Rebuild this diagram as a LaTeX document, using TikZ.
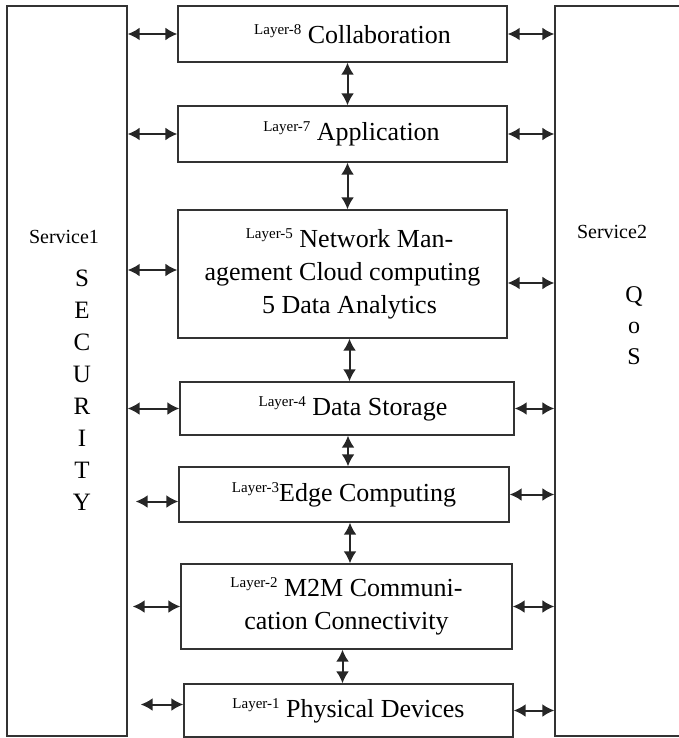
\documentclass[tikz,border=0pt]{standalone}
\usepackage{fontspec}
\setmainfont{Liberation Serif}
\usetikzlibrary{arrows.meta}
\newcommand{\lyr}[1]{\raisebox{9pt}{\fontsize{15}{15}\selectfont Layer-#1}}

\begin{document}
\begin{tikzpicture}[
        x=1pt, y=-1pt,
        layer/.style={draw=black!80, line width=1.4pt, inner sep=0pt, align=center, font=\fontsize{26}{33}\selectfont},
        service/.style={draw=black!80, line width=1.4pt, inner sep=0pt, minimum height=730pt},
        biarrow/.style={{Latex[length=12pt,width=13pt]}-{Latex[length=12pt,width=13pt]}, line width=2pt, black!85},
        svctext/.style={inner sep=0pt, font=\fontsize{20}{20}\selectfont},
        letters/.style={align=center, inner sep=0pt, anchor=north, font=\fontsize{25}{32}\selectfont}
    ]
    \useasboundingbox (0,0) rectangle (679,738);
    % side services
    \node[service, minimum width=120pt] (sec) at (67,371) {};
    \node[service, minimum width=130pt] (qos) at (620,371) {};
    \node[svctext] (svc1) at (64,237) {Service1};
    \node[svctext] (svc2) at (612,232) {Service2};
    \node[letters] (security) at (82,270) {S\\E\\C\\U\\R\\I\\T\\Y};
    \node[letters, font=\fontsize{24}{31}\selectfont] (qosword) at (634,286) {Q\\o\\S};
    % layers
    \node[layer, minimum width=329pt, minimum height=56pt] (l8) at (342.5,34) {\hspace*{20pt}\lyr{8} Collaboration};
    \node[layer, minimum width=329pt, minimum height=56pt] (l7) at (342.5,134) {\hspace*{18pt}\lyr{7} Application};
    \node[layer, minimum width=329pt, minimum height=128pt] (l5) at (342.5,274)
        {\hspace*{14pt}\lyr{5} Network Man-\\agement Cloud computing\\\hspace*{14pt}5 Data Analytics};
    \node[layer, minimum width=334pt, minimum height=53pt] (l4) at (347,408.5) {\hspace*{12pt}\lyr{4} Data Storage};
    \node[layer, minimum width=330pt, minimum height=55pt] (l3) at (344,494.5) {\lyr{3}Edge Computing};
    \node[layer, minimum width=331pt, minimum height=85pt] (l2) at (346.5,606.5)
        {\lyr{2} M2M Communi-\\cation Connectivity};
    \node[layer, minimum width=329pt, minimum height=53pt] (l1) at (348.5,710.5) {\lyr{1} Physical Devices};
    % links to the services
    \foreach \n in {l8,l7,l4,l3,l2,l1}{
        \draw[biarrow] (\n.east) -- (qos.west |- \n.east);
    }
    \foreach \n in {l8,l7,l4}{
        \draw[biarrow] (sec.east |- \n.west) -- (\n.west);
    }
    \draw[biarrow] ([yshift=4pt]sec.east |- l5.west) -- ([yshift=4pt]l5.west);
    \draw[biarrow] ([yshift=-9pt]l5.east) -- ([yshift=-9pt]qos.west |- l5.east);
    \draw[biarrow, shorten <=8pt] ([yshift=-7pt]sec.east |- l3.west) -- ([yshift=-7pt]l3.west);
    \draw[biarrow, shorten <=5pt] (sec.east |- l2.west) -- (l2.west);
    \draw[biarrow, shorten <=13pt] ([yshift=6pt]sec.east |- l1.west) -- ([yshift=6pt]l1.west);
    % links between layers
    \draw[biarrow] ([xshift=5pt]l8.south) -- ([xshift=5pt]l8.south |- l7.north);
    \draw[biarrow] ([xshift=5pt]l7.south) -- ([xshift=5pt]l7.south |- l5.north);
    \draw[biarrow] ([xshift=7pt]l5.south) -- ([xshift=7pt]l5.south |- l4.north);
    \draw[biarrow] ([xshift=1pt]l4.south) -- ([xshift=1pt]l4.south |- l3.north);
    \draw[biarrow] ([xshift=6pt]l3.south) -- ([xshift=6pt]l3.south |- l2.north);
    \draw[biarrow] ([xshift=-4pt]l2.south) -- ([xshift=-4pt]l2.south |- l1.north);
\end{tikzpicture}
\end{document}
